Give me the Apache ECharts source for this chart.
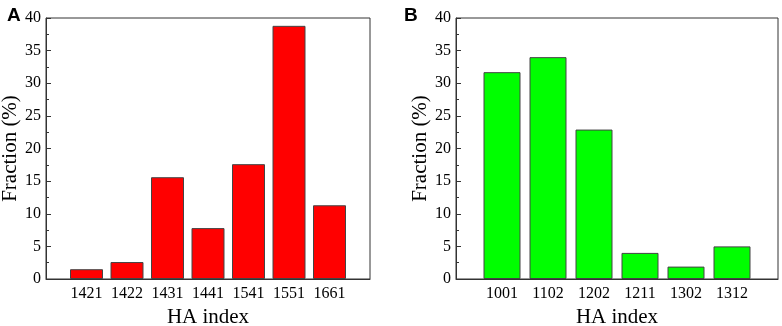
<!DOCTYPE html>
<html>
<head>
<meta charset="utf-8">
<script src="https://cdn.jsdelivr.net/npm/echarts@6/dist/echarts.min.js"></script>
<style>
  html, body { margin: 0; padding: 0; background: #fff; }
  #chart { width: 782px; height: 326px; }
</style>
</head>
<body>
<div id="chart"></div>
<script>
// panel A
const catsA = ['1421', '1422', '1431', '1441', '1541', '1551', '1661']
const valsA = [1.5, 2.6, 15.6, 7.8, 17.6, 38.8, 11.3]
// panel B
const catsB = ['1001', '1102', '1202', '1211', '1302', '1312']
const valsB = [31.7, 34.0, 22.9, 4.0, 1.9, 5.0]

const yTicks = [0, 5, 10, 15, 20, 25, 30, 35, 40]

const serif = 'Liberation Serif'
const ink = '#333'

const chart = echarts.init(document.getElementById('chart'))

function xAxisFor(idx, cats) {
  return {
    type: 'value',
    gridIndex: idx,
    min: 0,
    max: cats.length + 1,
    interval: 1,
    name: 'HA index',
    nameLocation: 'middle',
    nameGap: 28,
    nameTextStyle: { fontFamily: serif, fontSize: 21, color: '#000' },
    axisLine: { lineStyle: { color: ink, width: 1 } },
    axisTick: { show: false },
    splitLine: { show: false },
    axisLabel: {
      margin: 7,
      fontFamily: serif,
      fontSize: 16,
      color: '#000',
      formatter: v => cats[v - 1] || ''
    }
  }
}

function yAxisFor(idx) {
  return {
    type: 'value',
    gridIndex: idx,
    min: yTicks[0],
    max: yTicks[yTicks.length - 1],
    interval: yTicks[1] - yTicks[0],
    name: 'Fraction (%)',
    nameLocation: 'middle',
    nameGap: 24,
    nameTextStyle: { fontFamily: serif, fontSize: 21, color: '#000' },
    axisLine: { show: true, lineStyle: { color: ink, width: 1 } },
    axisTick: { inside: true, length: 5, lineStyle: { color: ink } },
    minorTick: { show: true, splitNumber: 2, length: 3, lineStyle: { color: ink } },
    splitLine: { show: false },
    axisLabel: { margin: 5, fontFamily: serif, fontSize: 16, color: '#000' }
  }
}

const gridBase = {
  top: 18, bottom: 47,
  show: true, borderColor: ink, borderWidth: 1, backgroundColor: 'transparent',
  containLabel: false, outerBoundsMode: 'none'
}

chart.setOption({
  animation: false,
  title: [
    { text: 'A', left: 2, top: 1, textStyle: { fontFamily: 'Liberation Sans', fontWeight: 'bold', fontSize: 19, color: '#000' } },
    { text: 'B', left: 399, top: 1, textStyle: { fontFamily: 'Liberation Sans', fontWeight: 'bold', fontSize: 19, color: '#000' } }
  ],
  grid: [
    Object.assign({ left: 46, right: 412 }, gridBase),
    Object.assign({ left: 456, right: 4 }, gridBase)
  ],
  xAxis: [xAxisFor(0, catsA), xAxisFor(1, catsB)],
  yAxis: [yAxisFor(0), yAxisFor(1)],
  series: [
    {
      type: 'bar',
      xAxisIndex: 0,
      yAxisIndex: 0,
      barWidth: 33,
      data: valsA.map((v, i) => [i + 1, v]),
      itemStyle: { color: '#ff0000', borderColor: '#444', borderWidth: 1 }
    },
    {
      type: 'bar',
      xAxisIndex: 1,
      yAxisIndex: 1,
      barWidth: 37,
      data: valsB.map((v, i) => [i + 1, v]),
      itemStyle: { color: '#00ff00', borderColor: '#444', borderWidth: 1 }
    }
  ]
})
</script>
</body>
</html>
